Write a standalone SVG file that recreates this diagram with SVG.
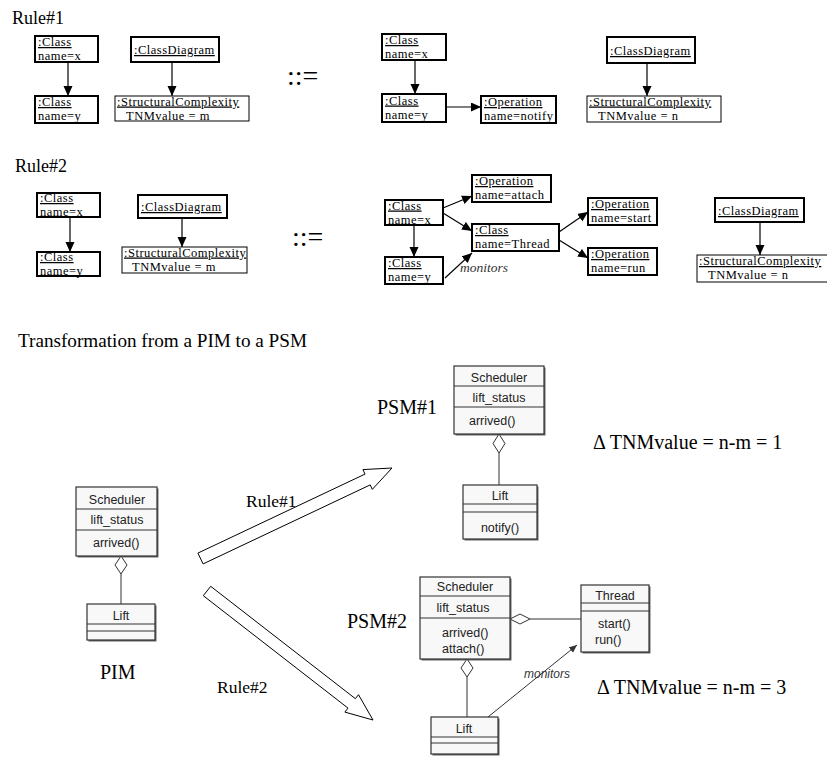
<svg xmlns="http://www.w3.org/2000/svg" width="827" height="758" viewBox="0 0 827 758">
<defs>
<style>
.obj{fill:#fff;stroke:#000;stroke-width:2}
.sc{fill:#fff;stroke:#000;stroke-width:1}
.t{font-family:"Liberation Serif","Times New Roman",serif;font-size:12.5px;letter-spacing:0.5px;fill:#000}
.u{text-decoration:underline}
.lbl{font-family:"Liberation Serif","Times New Roman",serif;fill:#000}
.con{stroke:#000;stroke-width:1.2;fill:none}
.uml{fill:#f8f8f8;stroke:#333;stroke-width:1.2}
.shd{fill:#666}
.div{stroke:#333;stroke-width:1}
.ut{font-family:"Liberation Sans",Arial,sans-serif;font-size:12.5px;fill:#222}
.c{text-anchor:middle}
.big{fill:#fff;stroke:#000;stroke-width:1}
.dia{fill:#fff;stroke:#333;stroke-width:1}
</style>
<marker id="ah" markerUnits="userSpaceOnUse" markerWidth="11" markerHeight="10" refX="10" refY="4.5" orient="auto">
<path d="M0,0 L10,4.5 L0,9 z" fill="#000"/>
</marker>
<marker id="ahs" markerUnits="userSpaceOnUse" markerWidth="9" markerHeight="8" refX="8" refY="3.5" orient="auto">
<path d="M0,0 L8,3.5 L0,7 z" fill="#333"/>
</marker>
</defs>
<rect width="827" height="758" fill="#fff"/>

<!-- Rule#1 -->
<text class="lbl" x="12" y="24" font-size="18">Rule#1</text>
<g id="r1-classx"><rect class="obj" x="35" y="36" width="63" height="26"/><text class="t u" x="38" y="46">:Class</text><text class="t" x="38" y="60">name=x</text></g>
<g id="r1-classy"><rect class="obj" x="35" y="96" width="63" height="27"/><text class="t u" x="38" y="106">:Class</text><text class="t" x="38" y="120">name=y</text></g>
<g id="r1-cd"><rect class="obj" x="131" y="37" width="88" height="25"/><text class="t u" x="134" y="54">:ClassDiagram</text></g>
<g id="r1-sc"><rect class="sc" x="115" y="96" width="134" height="25"/><text class="t u" x="117" y="105.5">:StructuralComplexity</text><text class="t" x="126" y="119.5">TNMvalue = m</text></g>
<text class="lbl" x="287" y="85" font-size="28">::=</text>
<g id="r1p-classx"><rect class="obj" x="382" y="34" width="64" height="26"/><text class="t u" x="385" y="44">:Class</text><text class="t" x="385" y="58">name=x</text></g>
<g id="r1p-classy"><rect class="obj" x="382" y="94" width="64" height="28"/><text class="t u" x="385" y="104.5">:Class</text><text class="t" x="385" y="118.5">name=y</text></g>
<g id="r1p-op"><rect class="obj" x="481" y="96" width="75" height="27"/><text class="t u" x="484" y="106">:Operation</text><text class="t" x="484" y="120">name=notify</text></g>
<g id="r1p-cd"><rect class="obj" x="607" y="37" width="88" height="26"/><text class="t u" x="610" y="55">:ClassDiagram</text></g>
<g id="r1p-sc"><rect class="sc" x="587" y="96" width="134" height="26"/><text class="t u" x="589" y="105.5">:StructuralComplexity</text><text class="t" x="598" y="119.5">TNMvalue = n</text></g>

<!-- Rule#2 -->
<text class="lbl" x="15" y="172" font-size="18">Rule#2</text>
<g id="r2-classx"><rect class="obj" x="37" y="193" width="63" height="24"/><text class="t u" x="40" y="202">:Class</text><text class="t" x="40" y="216">name=x</text></g>
<g id="r2-classy"><rect class="obj" x="37" y="252" width="63" height="24"/><text class="t u" x="40" y="261">:Class</text><text class="t" x="40" y="275">name=y</text></g>
<g id="r2-cd"><rect class="obj" x="138" y="195" width="89" height="23"/><text class="t u" x="141" y="211">:ClassDiagram</text></g>
<g id="r2-sc"><rect class="sc" x="122" y="247" width="125" height="26"/><text class="t u" x="124" y="256.5">:StructuralComplexity</text><text class="t" x="132" y="270.5">TNMvalue = m</text></g>
<text class="lbl" x="292" y="246" font-size="28">::=</text>
<g id="r2p-classx"><rect class="obj" x="385" y="200" width="58" height="25"/><text class="t u" x="388" y="209.5">:Class</text><text class="t" x="388" y="223.5">name=x</text></g>
<g id="r2p-classy"><rect class="obj" x="385" y="257" width="58" height="27"/><text class="t u" x="388" y="267">:Class</text><text class="t" x="388" y="281">name=y</text></g>
<g id="r2p-attach"><rect class="obj" x="472" y="175" width="79" height="27"/><text class="t u" x="475" y="185">:Operation</text><text class="t" x="475" y="199">name=attach</text></g>
<g id="r2p-thread"><rect class="obj" x="472" y="224" width="87" height="27"/><text class="t u" x="475" y="234">:Class</text><text class="t" x="475" y="248">name=Thread</text></g>
<g id="r2p-start"><rect class="obj" x="588" y="198" width="69" height="27"/><text class="t u" x="591" y="208">:Operation</text><text class="t" x="591" y="222">name=start</text></g>
<g id="r2p-run"><rect class="obj" x="588" y="248" width="69" height="27"/><text class="t u" x="591" y="258">:Operation</text><text class="t" x="591" y="272">name=run</text></g>
<g id="r2p-cd"><rect class="obj" x="715" y="198" width="89" height="24"/><text class="t u" x="718" y="215">:ClassDiagram</text></g>
<g id="r2p-sc"><rect class="sc" x="697" y="255" width="131" height="27"/><text class="t u" x="699" y="265">:StructuralComplexity</text><text class="t" x="708" y="279">TNMvalue = n</text></g>

<!-- Lower section -->
<text class="lbl" x="18" y="347" font-size="18" textLength="289" lengthAdjust="spacingAndGlyphs">Transformation from a PIM to a PSM</text>

<g id="pim-scheduler"><rect class="shd" x="77.5" y="488.5" width="81" height="69"/><rect class="uml" x="76" y="487" width="81" height="69"/><line class="div" x1="76" y1="509" x2="157" y2="509"/><line class="div" x1="76" y1="530" x2="157" y2="530"/><text class="ut c" x="117" y="504">Scheduler</text><text class="ut c" x="117" y="524">lift_status</text><text class="ut" x="93" y="547">arrived()</text></g>
<g id="pim-lift"><rect class="shd" x="88.5" y="605.5" width="68" height="36"/><rect class="uml" x="87" y="604" width="68" height="36"/><line class="div" x1="87" y1="624" x2="155" y2="624"/><line class="div" x1="87" y1="631" x2="155" y2="631"/><text class="ut c" x="121" y="620">Lift</text></g>
<text class="lbl" x="100" y="679" font-size="20">PIM</text>

<g id="psm1-scheduler"><rect class="shd" x="455.5" y="367.5" width="90" height="68"/><rect class="uml" x="454" y="366" width="90" height="68"/><line class="div" x1="454" y1="386" x2="544" y2="386"/><line class="div" x1="454" y1="407" x2="544" y2="407"/><text class="ut c" x="499" y="382">Scheduler</text><text class="ut c" x="499" y="402">lift_status</text><text class="ut" x="469" y="425">arrived()</text></g>
<g id="psm1-lift"><rect class="shd" x="464.5" y="486.5" width="74" height="54"/><rect class="uml" x="463" y="485" width="74" height="54"/><line class="div" x1="463" y1="504" x2="537" y2="504"/><line class="div" x1="463" y1="512" x2="537" y2="512"/><text class="ut c" x="500" y="500">Lift</text><text class="ut c" x="500" y="532">notify()</text></g>
<text class="lbl" x="377" y="414" font-size="20">PSM#1</text>
<text class="lbl" x="593" y="449" font-size="20">Δ TNMvalue = n-m = 1</text>

<g id="psm2-scheduler"><rect class="shd" x="421.5" y="578.5" width="90" height="82"/><rect class="uml" x="420" y="577" width="90" height="82"/><line class="div" x1="420" y1="596" x2="510" y2="596"/><line class="div" x1="420" y1="618" x2="510" y2="618"/><text class="ut c" x="465" y="591">Scheduler</text><text class="ut c" x="463" y="612">lift_status</text><text class="ut" x="442" y="637">arrived()</text><text class="ut" x="442" y="653">attach()</text></g>
<g id="psm2-thread"><rect class="shd" x="582.5" y="586.5" width="68" height="67"/><rect class="uml" x="581" y="585" width="68" height="67"/><line class="div" x1="581" y1="603" x2="649" y2="603"/><line class="div" x1="581" y1="611" x2="649" y2="611"/><text class="ut c" x="615" y="600">Thread</text><text class="ut" x="598" y="628">start()</text><text class="ut" x="595" y="644">run()</text></g>
<g id="psm2-lift"><rect class="shd" x="432.5" y="718.5" width="67" height="37"/><rect class="uml" x="431" y="717" width="67" height="37"/><line class="div" x1="431" y1="737" x2="498" y2="737"/><line class="div" x1="431" y1="743" x2="498" y2="743"/><text class="ut c" x="464" y="733">Lift</text></g>
<text class="lbl" x="347" y="628" font-size="20">PSM#2</text>
<text class="lbl" x="597" y="694" font-size="20">Δ TNMvalue = n-m = 3</text>

<g id="connectors">
<line class="con" x1="68" y1="62" x2="68" y2="96" marker-end="url(#ah)"/>
<line class="con" x1="172" y1="62" x2="172" y2="96" marker-end="url(#ah)"/>
<line class="con" x1="415" y1="60" x2="415" y2="94" marker-end="url(#ah)"/>
<line class="con" x1="446" y1="107" x2="481" y2="107" marker-end="url(#ah)"/>
<line class="con" x1="647" y1="63" x2="647" y2="96" marker-end="url(#ah)"/>
<line class="con" x1="70" y1="217" x2="70" y2="252" marker-end="url(#ah)"/>
<line class="con" x1="182" y1="218" x2="182" y2="247" marker-end="url(#ah)"/>
<line class="con" x1="414" y1="225" x2="414" y2="257" marker-end="url(#ah)"/>
<line class="con" x1="443" y1="208" x2="472" y2="196" marker-end="url(#ah)"/>
<line class="con" x1="443" y1="213" x2="472" y2="231" marker-end="url(#ah)"/>
<line class="con" x1="445" y1="278" x2="472" y2="253" marker-end="url(#ah)"/>
<text x="460" y="272" font-family="Liberation Serif,serif" font-style="italic" font-size="13.5" fill="#333">monitors</text>
<line class="con" x1="559" y1="232" x2="588" y2="212" marker-end="url(#ah)"/>
<line class="con" x1="559" y1="240" x2="588" y2="258" marker-end="url(#ah)"/>
<line class="con" x1="760" y1="222" x2="760" y2="255" marker-end="url(#ah)"/>

<polygon class="big" points="197.9,553.1 365,474.1 362.9,469.6 392,468 372.3,489.4 370.2,484.9 203.1,563.9"/>
<text class="lbl" x="246" y="507" font-size="17.5">Rule#1</text>
<polygon class="big" points="210.7,586.3 355.4,698.7 358.5,694.7 373,720 344.9,712.1 348,708.1 203.3,595.7"/>
<text class="lbl" x="217" y="693" font-size="17.5">Rule#2</text>

<polygon class="dia" points="121,556 127,565 121,574 115,565"/>
<line class="div" x1="121" y1="574" x2="121" y2="604"/>
<polygon class="dia" points="499,434 505,443.5 499,453 493,443.5"/>
<line class="div" x1="499" y1="453" x2="499" y2="485"/>
<polygon class="dia" points="510,619 520,614 530,619 520,624"/>
<line class="div" x1="530" y1="619" x2="581" y2="619"/>
<polygon class="dia" points="467,659 473,668 467,677 461,668"/>
<line class="div" x1="467" y1="677" x2="467" y2="717"/>
<line x1="488" y1="717" x2="577" y2="645" stroke="#333" stroke-width="1" marker-end="url(#ahs)"/>
<text x="524" y="678" font-family="Liberation Sans,Arial,sans-serif" font-style="italic" font-size="12" fill="#333">monitors</text>
</g>
</svg>
